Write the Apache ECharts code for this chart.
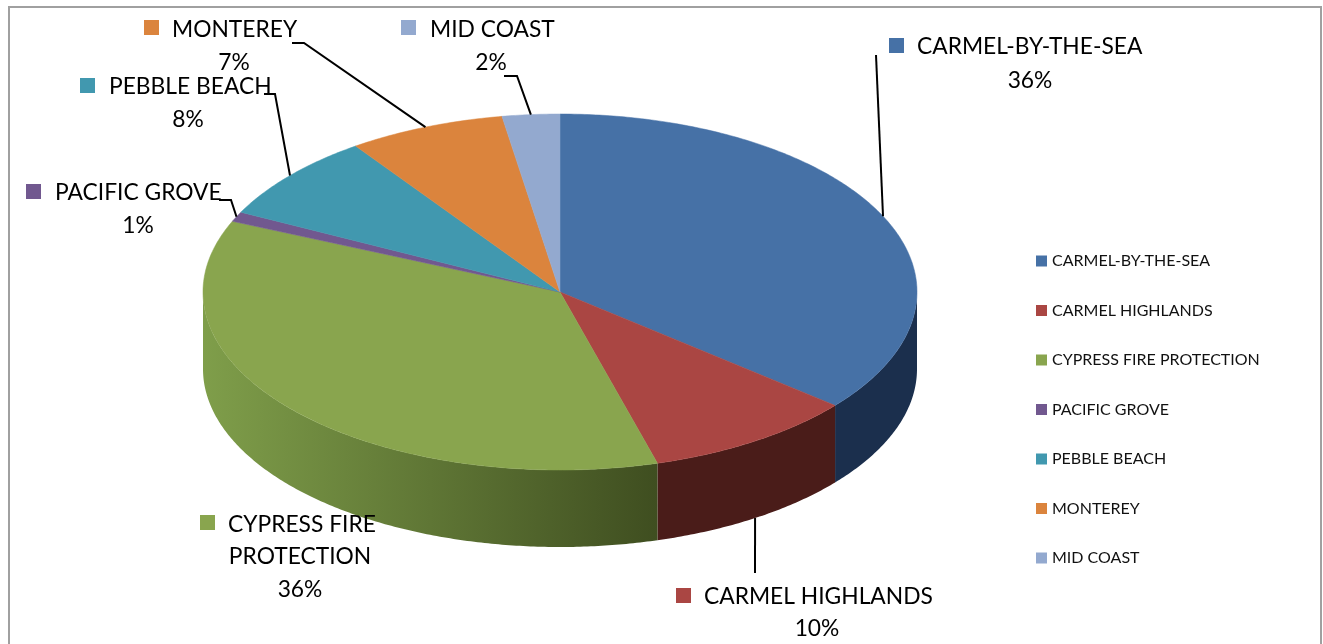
<!DOCTYPE html>
<html>
<head>
<meta charset="utf-8">
<style>
  html, body { margin: 0; padding: 0; background: #fff; }
  #main { width: 1323px; height: 644px; }
</style>
<script src="https://cdn.jsdelivr.net/npm/echarts@6/dist/echarts.min.js"></script>
</head>
<body>
<div id="main"></div>
<script>
var categories = ['CARMEL-BY-THE-SEA', 'CARMEL HIGHLANDS', 'CYPRESS FIRE PROTECTION', 'PACIFIC GROVE', 'PEBBLE BEACH', 'MONTEREY', 'MID COAST'];
// slice sizes
var values = [36, 9.6, 35.9, 0.9, 7.9, 7.1, 2.6];
// percent text as printed on the chart
var percentLabels = ['36%', '10%', '36%', '1%', '8%', '7%', '2%'];
var colors = ['#4671a6', '#aa4643', '#89a54e', '#71588f', '#4198af', '#db843d', '#93a9cf'];

// pie geometry
var cx = 560, cy = 292, rx = 357, ry = 178, depth = 77;
var FONT = 'Lato, "Open Sans", sans-serif';

// where each data label sits: swatch left/top, text lines [x, y, align]
var labelBoxes = [
  { swatch: [889, 38], lines: [['CARMEL-BY-THE-SEA', 917, 47, 'left']], pct: [1030, 81] },
  { swatch: [676, 588], lines: [['CARMEL HIGHLANDS', 704, 597, 'left']], pct: [817, 629] },
  { swatch: [200, 515], lines: [['CYPRESS FIRE', 228, 525, 'left'], ['PROTECTION', 300, 557, 'center']], pct: [300, 590] },
  { swatch: [26, 184], lines: [['PACIFIC GROVE', 55, 193, 'left']], pct: [138, 226] },
  { swatch: [80, 78], lines: [['PEBBLE BEACH', 109, 87, 'left']], pct: [188, 120] },
  { swatch: [144, 20], lines: [['MONTEREY', 172, 30, 'left']], pct: [234, 63] },
  { swatch: [401, 20], lines: [['MID COAST', 430, 30, 'left']], pct: [491, 63] }
];
// leader lines start here, the last point comes from the slice itself
var leaderStarts = [
  [[876, 55]],
  [[755, 573]],
  null,
  [[219, 200], [231, 200]],
  [[264, 94], [275, 94]],
  [[292, 43], [304, 43]],
  [[504, 76], [517, 76]]
];

var total = values.reduce(function (a, b) { return a + b; }, 0);

// start and end angle of a slice, clockwise from 12 o'clock
var sliceAngles = function (idx) {
  var sum = 0;
  for (var i = 0; i < idx; i++) sum += values[i];
  return [sum / total * Math.PI * 2, (sum + values[idx]) / total * Math.PI * 2];
};

var onEllipse = function (a, dy) {
  return [cx + rx * Math.sin(a), cy - ry * Math.cos(a) + (dy || 0)];
};

var arcPoints = function (a0, a1, dy) {
  var pts = [];
  var n = Math.max(2, Math.ceil((a1 - a0) / 0.01));
  for (var i = 0; i <= n; i++) pts.push(onEllipse(a0 + (a1 - a0) * i / n, dy));
  return pts;
};

var sideFill = function (idx) {
  if (idx === 0) return '#1b2f4d';
  if (idx === 1) return '#4a1c19';
  return new echarts.graphic.LinearGradient(0, 0, 1, 0, [
    { offset: 0, color: '#7f9e4a' },
    { offset: 1, color: '#3f4e20' }
  ]);
};

var renderSide = function (params) {
  var idx = params.dataIndex;
  var ang = sliceAngles(idx);
  var a0 = Math.max(ang[0], Math.PI / 2);
  var a1 = Math.min(ang[1], Math.PI * 1.5);
  if (a1 <= a0) return null;
  var pts = arcPoints(a0, a1, 0).concat(arcPoints(a0, a1, depth).reverse());
  return {
    type: 'polygon',
    shape: { points: pts },
    style: { fill: sideFill(idx), stroke: null }
  };
};

var renderTop = function (idx) {
  return function () {
    var ang = sliceAngles(idx);
    var color = colors[idx];
    var box = labelBoxes[idx];
    var children = [{
      type: 'polygon',
      shape: { points: [[cx, cy]].concat(arcPoints(ang[0], ang[1], 0)) },
      style: { fill: color, stroke: color, lineWidth: 0.5 }
    }];

    if (leaderStarts[idx]) {
      var mid = (ang[0] + ang[1]) / 2;
      // slices facing the viewer hang the leader from the bottom rim
      var anchor = onEllipse(mid, idx === 1 ? depth : 0);
      children.push({
        type: 'polyline',
        shape: { points: leaderStarts[idx].concat([anchor]) },
        style: { stroke: '#000', lineWidth: 2, fill: null }
      });
    }

    children.push({
      type: 'rect',
      shape: { x: box.swatch[0], y: box.swatch[1], width: 15, height: 15 },
      style: { fill: color }
    });
    box.lines.forEach(function (l) {
      children.push({
        type: 'text',
        style: { text: l[0], x: l[1], y: l[2], align: l[3], verticalAlign: 'middle', fill: '#000', font: '22.8px ' + FONT }
      });
    });
    children.push({
      type: 'text',
      style: { text: percentLabels[idx], x: box.pct[0], y: box.pct[1], align: 'center', verticalAlign: 'middle', fill: '#000', font: '22.8px ' + FONT }
    });
    return { type: 'group', children: children };
  };
};

var series = [{
  name: 'side',
  type: 'custom',
  coordinateSystem: 'none',
  z: 1,
  silent: true,
  renderItem: renderSide,
  data: values
}];
categories.forEach(function (name, i) {
  series.push({
    name: name,
    type: 'custom',
    coordinateSystem: 'none',
    z: 2,
    silent: true,
    itemStyle: { color: colors[i] },
    renderItem: renderTop(i),
    data: [values[i]]
  });
});

var chart = echarts.init(document.getElementById('main'));
chart.setOption({
  animation: false,
  backgroundColor: '#fff',
  graphic: [{
    type: 'rect',
    z: 0,
    silent: true,
    shape: { x: 9, y: 7, width: 1312, height: 660 },
    style: { fill: '#fff', stroke: '#a0a0a0', lineWidth: 2 }
  }],
  legend: {
    data: categories,
    orient: 'vertical',
    left: 1036,
    top: 251,
    icon: 'rect',
    itemWidth: 11,
    itemHeight: 11,
    itemGap: 29.5,
    padding: 0,
    selectedMode: false,
    textStyle: { fontFamily: FONT, fontSize: 16, color: '#111', lineHeight: 20 }
  },
  series: series
});
</script>
</body>
</html>
